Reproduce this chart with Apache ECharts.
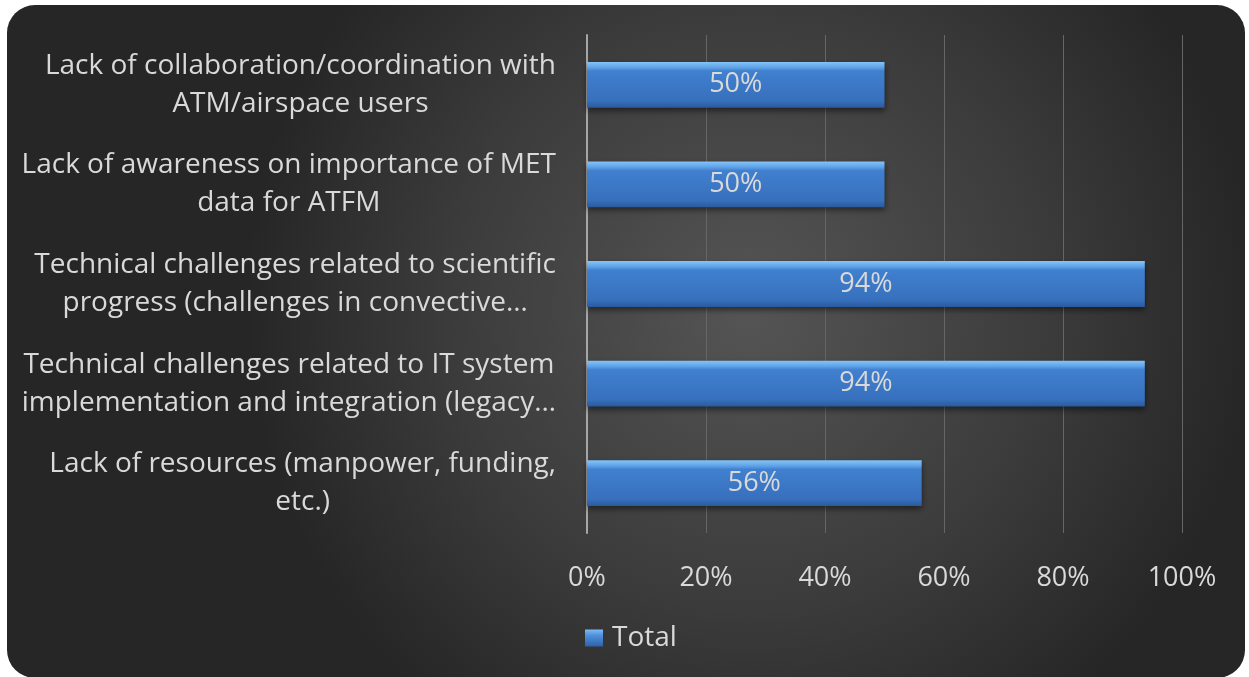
<!DOCTYPE html>
<html><head><meta charset="utf-8">
<script src="https://cdn.jsdelivr.net/npm/echarts@6/dist/echarts.min.js"></script>
<style>html,body{margin:0;padding:0;background:#fff}#c{width:1249px;height:677px}</style>
</head><body><div id="c"></div>
<script>
const categories = [
  "Lack of collaboration/coordination with\nATM/airspace users",
  "Lack of awareness on importance of MET\ndata for ATFM",
  "Technical challenges related to scientific\nprogress (challenges in convective…",
  "Technical challenges related to IT system\nimplementation and integration (legacy…",
  "Lack of resources (manpower, funding,\netc.)"
];
const totalValues = [0.5, 0.5, 0.9375, 0.9375, 0.5625];
const seriesName = "Total";
const xTicks = [0, 0.2, 0.4, 0.6, 0.8, 1.0];

const chart = echarts.init(document.getElementById('c'), null, {renderer:'canvas'});
const fontFam = "'Open Sans', 'Noto Sans', sans-serif";
chart.setOption({
  animation:false,
  graphic:[{
    type:'rect', z:-10, silent:true,
    shape:{x:7,y:5,width:1238,height:673,r:28},
    style:{fill:{type:'radial',x:0.6,y:0.45,r:0.75,colorStops:[{offset:0,color:'#555555'},{offset:0.6,color:'#3b3b3b'},{offset:1,color:'#262626'}]}}
  }],
  grid:{left:587,right:67,top:35,bottom:144,containLabel:false},
  legend:{
    bottom:20,left:580,
    icon:'rect',itemWidth:18,itemHeight:17,itemGap:6,
    textStyle:{color:'#d9d9d9',fontSize:28,fontFamily:fontFam,padding:[0,0,0,4]},
    itemStyle:{color:{type:'linear',x:0,y:0,x2:0,y2:1,colorStops:[
        {offset:0,color:'#7cbcf5'},{offset:0.35,color:'#4f90dc'},{offset:1,color:'#2d62a8'}]}},
    data:[seriesName]
  },
  xAxis:{
    type:'value',min:0,max:1,interval:0.2,
    axisLine:{show:false},axisTick:{show:false},
    splitLine:{lineStyle:{color:'#666666',width:1}},
    axisLabel:{color:'#d9d9d9',fontSize:27,fontFamily:fontFam,margin:32,
      formatter:v=>Math.round(v*100)+'%'}
  },
  yAxis:{
    type:'category',inverse:true,data:categories,
    axisLine:{show:true,lineStyle:{color:'#a6a6a6',width:2}},
    axisTick:{show:false},
    axisLabel:{color:'#d9d9d9',fontSize:28,fontFamily:fontFam,margin:31,align:'right',lineHeight:38,
      formatter:v=>v.split('\n').map(l=>'{c|'+l+'}').join('\n'),
      rich:{c:{align:'center',color:'#d9d9d9',fontSize:28,fontFamily:fontFam,lineHeight:38}}}
  },
  series:[{
    name:seriesName,type:'bar',data:totalValues,barWidth:'46%',
    itemStyle:{
      color:{type:'linear',x:0,y:0,x2:0,y2:1,colorStops:[
        {offset:0,color:'#86c4f8'},{offset:0.12,color:'#5fa3e8'},{offset:0.2,color:'#4080cf'},
        {offset:0.85,color:'#3770bd'},{offset:1,color:'#2a5a9c'}]},
      shadowColor:'rgba(0,0,0,0.5)',shadowBlur:6,shadowOffsetY:3
    },
    label:{show:true,position:'inside',color:'#d9d9d9',fontSize:27,fontFamily:fontFam,
      formatter:p=>Math.round(p.value*100)+'%'}
  }]
});
</script></body></html>
